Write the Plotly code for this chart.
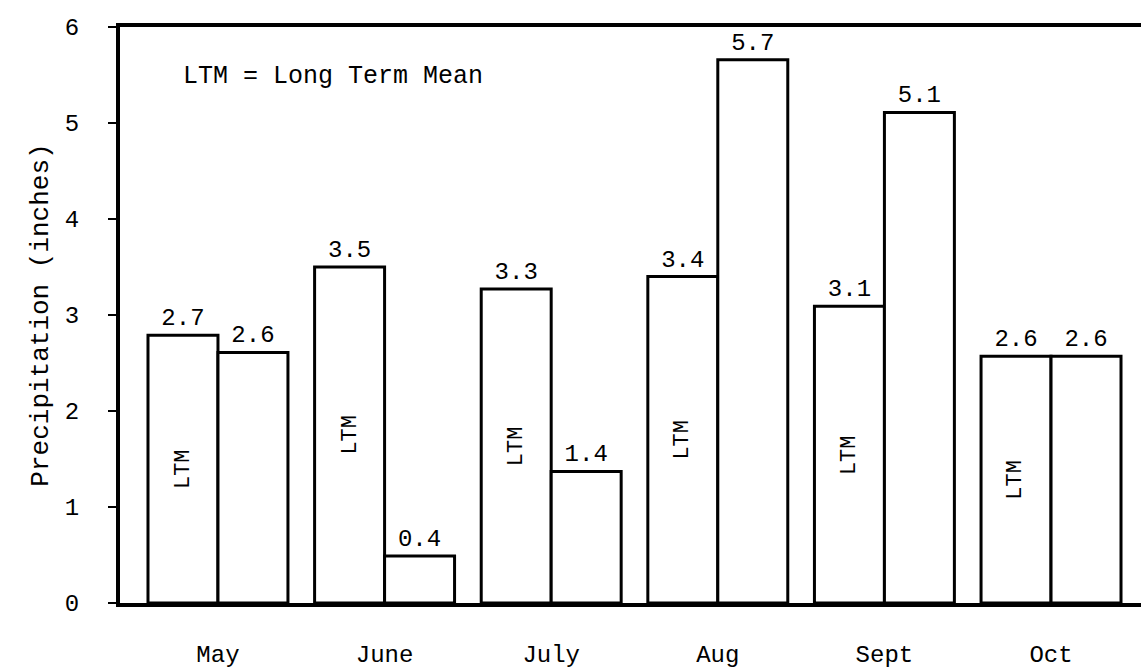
import plotly.graph_objects as go

months = ["May", "June", "July", "Aug", "Sept", "Oct"]
# bar heights as drawn on the chart (inches)
ltm_heights = [2.79, 3.50, 3.27, 3.40, 3.09, 2.57]
obs_heights = [2.61, 0.49, 1.37, 5.66, 5.11, 2.57]
# values printed above the bars
ltm_labels = ["2.7", "3.5", "3.3", "3.4", "3.1", "2.6"]
obs_labels = ["2.6", "0.4", "1.4", "5.7", "5.1", "2.6"]
y_ticks = [0, 1, 2, 3, 4, 5, 6]

FONT = "Liberation Mono, Courier New, monospace"
x_pos = list(range(len(months)))

fig = go.Figure()
bar_style = dict(
    marker=dict(color="white", line=dict(color="black", width=3)),
    textposition="outside",
    textfont=dict(family=FONT, size=24, color="black"),
    cliponaxis=False,
    constraintext="none",
    hoverinfo="skip",
)
fig.add_trace(go.Bar(x=x_pos, y=ltm_heights, text=ltm_labels, name="LTM", **bar_style))
fig.add_trace(go.Bar(x=x_pos, y=obs_heights, text=obs_labels, name="Observed", **bar_style))

# "LTM" labels inside the long-term-mean bars
for i, h in zip(x_pos, ltm_heights):
    fig.add_annotation(
        x=i - 0.21, y=h / 2, text="LTM", textangle=-90, showarrow=False,
        font=dict(family=FONT, size=22, color="black"),
    )

fig.add_annotation(
    xref="paper", yref="y", x=0.06, y=5.48, xanchor="left", yanchor="middle",
    text="LTM = Long Term Mean", showarrow=False,
    font=dict(family=FONT, size=25, color="black"),
)

fig.update_layout(
    width=1141, height=669,
    margin=dict(l=120, r=0, t=27, b=66),
    paper_bgcolor="white", plot_bgcolor="white",
    barmode="group", bargap=0.16, bargroupgap=0,
    showlegend=False,
    font=dict(family=FONT, color="black"),
)
fig.update_xaxes(
    range=[-0.588, 5.54],
    tickvals=x_pos, ticktext=months,
    tickfont=dict(family=FONT, size=24, color="black"),
    ticks="", ticklabelstandoff=26,
    showgrid=False, zeroline=False,
    showline=True, linecolor="black", linewidth=4, mirror=True,
)
fig.update_yaxes(
    range=[0, 6], tickvals=y_ticks,
    tickfont=dict(family=FONT, size=24, color="black"),
    ticks="outside", ticklen=8, tickwidth=2, tickcolor="black",
    ticklabelstandoff=24,
    showgrid=False, zeroline=False,
    showline=True, linecolor="black", linewidth=4, mirror=False,
    title=dict(text="Precipitation (inches)", standoff=10,
               font=dict(family=FONT, size=26, color="black")),
)

fig.write_html(
    "out.html",
    config={"displayModeBar": False},
    post_script="document.body.style.margin='0';document.body.style.overflow='hidden';",
)
